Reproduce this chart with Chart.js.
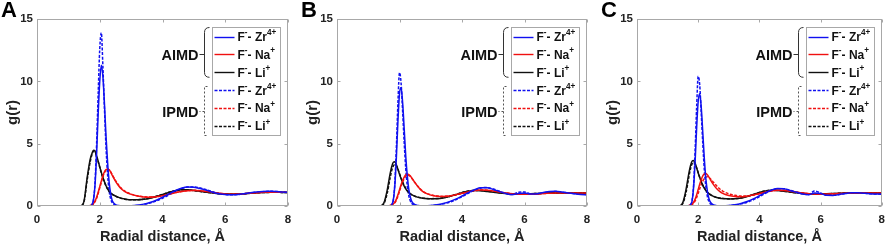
<!DOCTYPE html>
<html>
<head>
<meta charset="utf-8">
<script src="https://cdn.jsdelivr.net/npm/chart.js@4.4.1/dist/chart.umd.min.js"></script>
<style>
  html,body{margin:0;padding:0;background:#fff;}
  body{width:892px;height:247px;position:relative;overflow:hidden;}
  .p{position:absolute;top:0;height:247px;}
</style>
</head>
<body>
<div class="p" style="left:0;width:300px"><canvas id="cA"></canvas></div>
<div class="p" style="left:300px;width:300px"><canvas id="cB"></canvas></div>
<div class="p" style="left:600px;width:292px"><canvas id="cC"></canvas></div>
<script>
// ---------- data ----------
const PANELS = ['A', 'B', 'C'];
const X_TICKS = [0, 2, 4, 6, 8];
const Y_TICKS = [0, 5, 10, 15];
const PAIRS = ['F⁻- Zr⁴⁺', 'F⁻- Na⁺', 'F⁻- Li⁺'];
const GROUPS = ['AIMD', 'IPMD'];
const X_LABEL = 'Radial distance, Å';
const Y_LABEL = 'g(r)';

// radial distance grid (Å)
const R = [0,1.4,1.5,1.6,1.7,1.75,1.8,1.85,1.9,1.95,2.0,2.05,2.1,2.15,2.2,2.25,2.3,2.35,2.4,2.5,2.6,2.7,2.8,3.0,3.2,3.4,3.6,3.8,4.0,4.2,4.4,4.6,4.8,5.0,5.2,5.4,5.6,5.8,6.0,6.2,6.4,6.6,6.8,7.0,7.2,7.4,7.6,7.8,8.0];

// Panel A
const A_ZR_AIMD = [0,0,0,0,0.02,0.1,0.5,1.7,4.2,7.4, 10.0,11.3,10.4,8.2,5.6,3.5,1.9,0.95,0.42,0.12, 0.04,0.02,0.02,0.03,0.07,0.15,0.28,0.46,0.7,0.96, 1.22,1.42,1.52,1.5,1.4,1.26,1.11,0.99,0.92,0.9, 0.93,0.99,1.06,1.12,1.16,1.18,1.17,1.13,1.1];
const A_NA_AIMD = [0,0,0.01,0.02,0.05,0.1,0.2,0.4,0.7,1.1, 1.55,2.0,2.42,2.75,2.93,2.97,2.9,2.72,2.45,2.0, 1.62,1.34,1.15,0.93,0.8,0.72,0.7,0.74,0.82,0.94, 1.06,1.16,1.23,1.25,1.22,1.16,1.09,1.02,0.97,0.95, 0.96,0.99,1.03,1.07,1.1,1.11,1.11,1.1,1.09];
const A_LI_AIMD = [0,0.03,0.4,2.3,3.8,4.2,4.48,4.4,4.0,3.6, 3.15,2.7,2.3,1.95,1.62,1.38,1.18,1.04,0.94,0.8, 0.69,0.61,0.56,0.5,0.5,0.54,0.63,0.76,0.92,1.09, 1.22,1.3,1.3,1.25,1.18,1.1,1.04,0.99,0.96,0.95, 0.96,0.99,1.03,1.06,1.08,1.1,1.1,1.09,1.08];
const A_ZR_IPMD = [0,0,0,0,0.01,0.08,0.5,1.9,5.0,9.0, 12.6,13.9,11.2,7.8,4.7,2.5,1.2,0.55,0.25,0.07, 0.02,0.01,0.01,0.02,0.05,0.12,0.24,0.4,0.62,0.88, 1.15,1.38,1.52,1.53,1.44,1.3,1.14,1.01,0.93,0.9, 0.92,0.98,1.05,1.11,1.15,1.18,1.17,1.13,1.1];
const A_NA_IPMD = [0,0,0.01,0.02,0.04,0.08,0.17,0.35,0.62,1.0, 1.45,1.9,2.35,2.68,2.88,2.95,2.9,2.74,2.5,2.06, 1.68,1.39,1.19,0.96,0.82,0.74,0.72,0.75,0.83,0.95, 1.07,1.17,1.24,1.26,1.23,1.17,1.1,1.03,0.98,0.96, 0.96,0.99,1.03,1.07,1.1,1.11,1.11,1.1,1.09];
const A_LI_IPMD = [0,0.02,0.35,2.1,3.6,4.1,4.4,4.35,4.0,3.55, 3.1,2.65,2.25,1.9,1.6,1.36,1.17,1.03,0.93,0.79, 0.68,0.6,0.55,0.5,0.5,0.55,0.64,0.78,0.94,1.1, 1.23,1.3,1.29,1.24,1.17,1.1,1.04,0.99,0.96,0.95, 0.96,0.99,1.02,1.05,1.08,1.09,1.1,1.09,1.08];

// Panel B
const B_ZR_AIMD = [0,0,0,0,0.02,0.1,0.45,1.6,3.9,6.8, 9.0,9.5,8.3,6.2,4.0,2.4,1.3,0.68,0.33,0.1, 0.04,0.02,0.02,0.04,0.1,0.2,0.35,0.55,0.8,1.07, 1.3,1.46,1.46,1.33,1.16,1.01,0.92,1.0,1.04,0.96, 0.98,1.08,1.16,1.18,1.12,1.04,0.98,0.93,0.9];
const B_NA_AIMD = [0,0,0,0.01,0.05,0.1,0.18,0.3,0.55,0.9, 1.3,1.7,2.05,2.32,2.5,2.57,2.52,2.4,2.22,1.85, 1.52,1.25,1.07,0.87,0.78,0.76,0.8,0.9,1.02,1.14, 1.24,1.28,1.26,1.2,1.12,1.04,0.98,0.95,0.94,0.95, 0.97,1.0,1.02,1.04,1.05,1.05,1.05,1.05,1.05];
const B_LI_AIMD = [0,0.02,0.25,1.2,2.6,3.15,3.5,3.55,3.3,2.95, 2.55,2.2,1.88,1.6,1.38,1.2,1.07,0.97,0.89,0.77, 0.69,0.64,0.61,0.58,0.59,0.65,0.76,0.91,1.07,1.19, 1.25,1.23,1.17,1.11,1.05,1.01,0.98,0.97,0.97,0.98, 1.0,1.02,1.04,1.05,1.05,1.05,1.04,1.04,1.03];
const B_ZR_IPMD = [0,0,0,0,0.01,0.08,0.45,1.8,4.7,8.3, 10.7,9.9,7.6,5.1,3.0,1.6,0.8,0.38,0.18,0.05, 0.02,0.01,0.01,0.03,0.08,0.17,0.3,0.5,0.75,1.02, 1.27,1.45,1.48,1.36,1.18,1.02,0.92,1.1,1.12,0.96, 0.97,1.05,1.13,1.16,1.12,1.05,0.99,0.95,0.92];
const B_NA_IPMD = [0,0,0,0.01,0.04,0.08,0.15,0.26,0.48,0.8, 1.18,1.56,1.92,2.2,2.38,2.46,2.45,2.36,2.2,1.86, 1.54,1.28,1.1,0.9,0.8,0.77,0.8,0.89,1.01,1.13, 1.23,1.28,1.27,1.21,1.13,1.05,0.99,0.96,0.94,0.95, 0.97,1.0,1.02,1.04,1.05,1.05,1.05,1.05,1.05];
const B_LI_IPMD = [0,0.01,0.18,0.95,2.25,2.85,3.2,3.32,3.22,2.95, 2.6,2.25,1.93,1.65,1.42,1.23,1.09,0.98,0.9,0.78, 0.7,0.65,0.62,0.59,0.6,0.66,0.77,0.92,1.08,1.2, 1.26,1.24,1.18,1.12,1.06,1.01,0.98,0.97,0.97,0.98, 1.0,1.02,1.04,1.05,1.05,1.05,1.04,1.04,1.03];

// Panel C
const C_ZR_AIMD = [0,0,0,0,0.02,0.1,0.4,1.5,3.6,6.3, 8.4,9.0,7.9,5.9,3.8,2.2,1.2,0.6,0.3,0.09, 0.03,0.02,0.02,0.04,0.1,0.2,0.36,0.57,0.82,1.07, 1.28,1.4,1.38,1.25,1.1,0.97,0.9,1.05,1.0,0.86, 0.85,0.92,1.0,1.06,1.07,1.03,0.99,0.96,0.95];
const C_NA_AIMD = [0,0,0,0.01,0.05,0.1,0.18,0.3,0.55,0.9, 1.32,1.75,2.12,2.42,2.58,2.6,2.5,2.32,2.1,1.72, 1.4,1.17,1.01,0.84,0.76,0.74,0.79,0.89,1.01,1.13, 1.23,1.27,1.25,1.19,1.11,1.04,0.99,0.96,0.95,0.96, 0.98,1.0,1.02,1.04,1.05,1.05,1.05,1.05,1.05];
const C_LI_AIMD = [0,0.02,0.3,1.3,2.7,3.25,3.6,3.65,3.42,3.05, 2.65,2.28,1.95,1.66,1.43,1.24,1.1,0.99,0.9,0.77, 0.68,0.63,0.6,0.57,0.58,0.64,0.76,0.92,1.08,1.2, 1.26,1.25,1.19,1.12,1.06,1.01,0.98,0.97,0.97,0.98, 1.0,1.02,1.04,1.05,1.05,1.05,1.04,1.04,1.03];
const C_ZR_IPMD = [0,0,0,0,0.01,0.08,0.45,1.7,4.5,8.0, 10.4,9.7,7.4,5.0,2.9,1.55,0.75,0.35,0.16,0.05, 0.02,0.01,0.01,0.03,0.08,0.17,0.3,0.5,0.75,1.02, 1.25,1.38,1.38,1.27,1.12,0.98,0.92,1.2,1.05,0.86, 0.86,0.92,1.0,1.05,1.06,1.03,0.99,0.96,0.95];
const C_NA_IPMD = [0,0,0,0.01,0.03,0.06,0.12,0.22,0.4,0.68, 1.02,1.38,1.72,2.0,2.2,2.32,2.35,2.3,2.18,1.9, 1.62,1.38,1.2,0.98,0.86,0.8,0.81,0.88,0.99,1.1, 1.2,1.26,1.26,1.21,1.13,1.06,1.0,0.97,0.95,0.96, 0.98,1.0,1.02,1.04,1.05,1.05,1.05,1.05,1.05];
const C_LI_IPMD = [0,0.01,0.22,1.05,2.4,3.0,3.38,3.5,3.35,3.05, 2.68,2.3,1.97,1.68,1.45,1.26,1.11,1.0,0.91,0.78, 0.69,0.64,0.61,0.58,0.59,0.65,0.77,0.93,1.09,1.21, 1.27,1.25,1.19,1.12,1.06,1.01,0.98,0.97,0.97,0.98, 1.0,1.02,1.04,1.05,1.05,1.05,1.04,1.04,1.03];

// ---------- styling ----------
const COLORS = ['#1010f0', '#f01010', '#101010'];
const FONT = '"Liberation Sans", Arial, Helvetica, sans-serif';
Chart.defaults.font.family = FONT;
Chart.defaults.color = '#1a1a1a';

const SUP = {'⁻':'-', '⁺':'+', '⁴':'4'};
function drawRich(ctx, text, x, y, size) {
  let cx = x;
  for (const ch of text) {
    if (SUP[ch]) {
      ctx.font = 'bold ' + (size * 0.68) + 'px ' + FONT;
      ctx.fillText(SUP[ch], cx, y - size * 0.38);
      cx += ctx.measureText(SUP[ch]).width;
    } else {
      ctx.font = 'bold ' + size + 'px ' + FONT;
      ctx.fillText(ch, cx, y);
      cx += ctx.measureText(ch).width;
    }
  }
}

const overlay = {
  id: 'overlay',
  afterDraw(chart) {
    const {ctx, chartArea: ca} = chart;
    const xs = chart.scales.x, ys = chart.scales.y;
    const L = Math.round(ca.left) + 0.5, Rr = Math.round(ca.right) - 0.5;
    const T = Math.round(ca.top) + 0.5, B = Math.round(ca.bottom) - 0.5;
    ctx.save();
    // frame
    ctx.strokeStyle = '#a8a8a8';
    ctx.lineWidth = 1;
    ctx.strokeRect(L, T, Rr - L, B - T);
    // inward tick marks on all four sides
    ctx.beginPath();
    X_TICKS.forEach(v => {
      const px = Math.round(xs.getPixelForValue(v)) + 0.5;
      ctx.moveTo(px, B); ctx.lineTo(px, B - 3);
      ctx.moveTo(px, T); ctx.lineTo(px, T + 3);
    });
    Y_TICKS.forEach(v => {
      const py = Math.round(ys.getPixelForValue(v)) + 0.5;
      ctx.moveTo(L, py); ctx.lineTo(L + 3, py);
      ctx.moveTo(Rr, py); ctx.lineTo(Rr - 3, py);
    });
    ctx.stroke();

    // panel letter
    ctx.fillStyle = '#000';
    ctx.textBaseline = 'top';
    ctx.textAlign = 'left';
    ctx.font = 'bold 22px ' + FONT;
    ctx.fillText(chart.options.plugins.overlay.letter, 1, 0);

    // legend box
    const bl = Math.round(ca.right) - 76 + 0.5, br = Math.round(ca.right) - 8 + 0.5;
    const bt = Math.round(ca.top) + 8 + 0.5, bb = Math.round(ca.top) + 116 + 0.5;
    ctx.fillStyle = '#fff';
    ctx.fillRect(bl, bt, br - bl, bb - bt);
    ctx.strokeStyle = '#a8a8a8';
    ctx.strokeRect(bl, bt, br - bl, bb - bt);
    const rows = [];
    for (let i = 0; i < 6; i++) rows.push(bt + 9 + i * 17.9);
    chart.data.datasets.forEach((ds, i) => {
      const y = Math.round(rows[i]) + 0.5;
      ctx.strokeStyle = ds.borderColor;
      ctx.lineWidth = 1.4;
      ctx.setLineDash(ds.borderDash || []);
      ctx.beginPath();
      ctx.moveTo(bl + 2, y); ctx.lineTo(bl + 22, y);
      ctx.stroke();
      ctx.setLineDash([]);
      ctx.fillStyle = '#111';
      ctx.textBaseline = 'middle';
      drawRich(ctx, ds.pairLabel, bl + 25, rows[i] + 1, 12);
    });

    // brackets
    const bx = bl - 8;
    ctx.strokeStyle = '#333';
    ctx.lineWidth = 1;
    // AIMD (solid)
    let top = bt, bot = rows[2] + 5, mid = Math.round(rows[1]) + 0.5;
    ctx.beginPath();
    ctx.moveTo(bx + 5, top);
    ctx.quadraticCurveTo(bx, top, bx, top + 5);
    ctx.lineTo(bx, bot - 5);
    ctx.quadraticCurveTo(bx, bot, bx + 5, bot);
    ctx.moveTo(bx, mid); ctx.lineTo(bx - 5, mid);
    ctx.stroke();
    ctx.fillStyle = '#111';
    ctx.textAlign = 'right';
    ctx.textBaseline = 'middle';
    ctx.font = 'bold 14.5px ' + FONT;
    ctx.fillText(GROUPS[0], bx - 6, mid + 1);
    // IPMD (dashed)
    top = Math.round(rows[3]) - 4 + 0.5; bot = bb; mid = Math.round((top + bot) / 2) + 0.5;
    ctx.strokeStyle = '#555';
    ctx.setLineDash([2, 2]);
    ctx.beginPath();
    ctx.moveTo(bx + 3, top); ctx.lineTo(bx, top); ctx.lineTo(bx, bot); ctx.lineTo(bx + 3, bot);
    ctx.moveTo(bx, mid); ctx.lineTo(bx - 5, mid);
    ctx.stroke();
    ctx.setLineDash([]);
    ctx.fillText(GROUPS[1], bx - 6, mid + 1);
    ctx.restore();
  }
};

function makeChart(id, letter, series, rightPad) {
  const datasets = series.map((arr, i) => ({
    label: GROUPS[i < 3 ? 0 : 1] + ' ' + PAIRS[i % 3],
    pairLabel: PAIRS[i % 3],
    data: R.map((r, k) => ({x: r, y: arr[k]})),
    borderColor: COLORS[i % 3],
    borderWidth: 1.5,
    borderDash: i < 3 ? [] : [3, 1.5],
    pointRadius: 0,
    fill: false,
    cubicInterpolationMode: 'monotone'
  }));
  return new Chart(document.getElementById(id), {
    type: 'line',
    data: {datasets},
    options: {
      responsive: true,
      maintainAspectRatio: false,
      animation: false,
      layout: {padding: {top: 19, right: rightPad, left: 0, bottom: 0}},
      plugins: {
        legend: {display: false},
        tooltip: {enabled: false},
        overlay: {letter}
      },
      scales: {
        x: {
          type: 'linear', min: 0, max: 8,
          afterBuildTicks: s => { s.ticks = X_TICKS.map(v => ({value: v})); },
          afterFit: s => { s.height = 41; },
          grid: {display: false, drawTicks: false},
          border: {display: false},
          ticks: {font: {size: 11.5, weight: 'bold'}, color: '#222', padding: 7, maxRotation: 0},
          title: {display: true, text: X_LABEL, font: {size: 14.5, weight: 'bold'}, color: '#222', padding: {top: 0, bottom: 1}}
        },
        y: {
          min: 0, max: 15,
          afterBuildTicks: s => { s.ticks = Y_TICKS.map(v => ({value: v})); },
          afterFit: s => { s.width = 37; },
          grid: {display: false, drawTicks: false},
          border: {display: false},
          ticks: {font: {size: 11.5, weight: 'bold'}, color: '#222', padding: 4},
          title: {display: true, text: Y_LABEL, font: {size: 15, weight: 'bold'}, color: '#222', padding: {top: 4, bottom: 0}}
        }
      }
    },
    plugins: [overlay]
  });
}

makeChart('cA', PANELS[0], [A_ZR_AIMD, A_NA_AIMD, A_LI_AIMD, A_ZR_IPMD, A_NA_IPMD, A_LI_IPMD], 12);
makeChart('cB', PANELS[1], [B_ZR_AIMD, B_NA_AIMD, B_LI_AIMD, B_ZR_IPMD, B_NA_IPMD, B_LI_IPMD], 13);
makeChart('cC', PANELS[2], [C_ZR_AIMD, C_NA_AIMD, C_LI_AIMD, C_ZR_IPMD, C_NA_IPMD, C_LI_IPMD], 6);
</script>
</body>
</html>
